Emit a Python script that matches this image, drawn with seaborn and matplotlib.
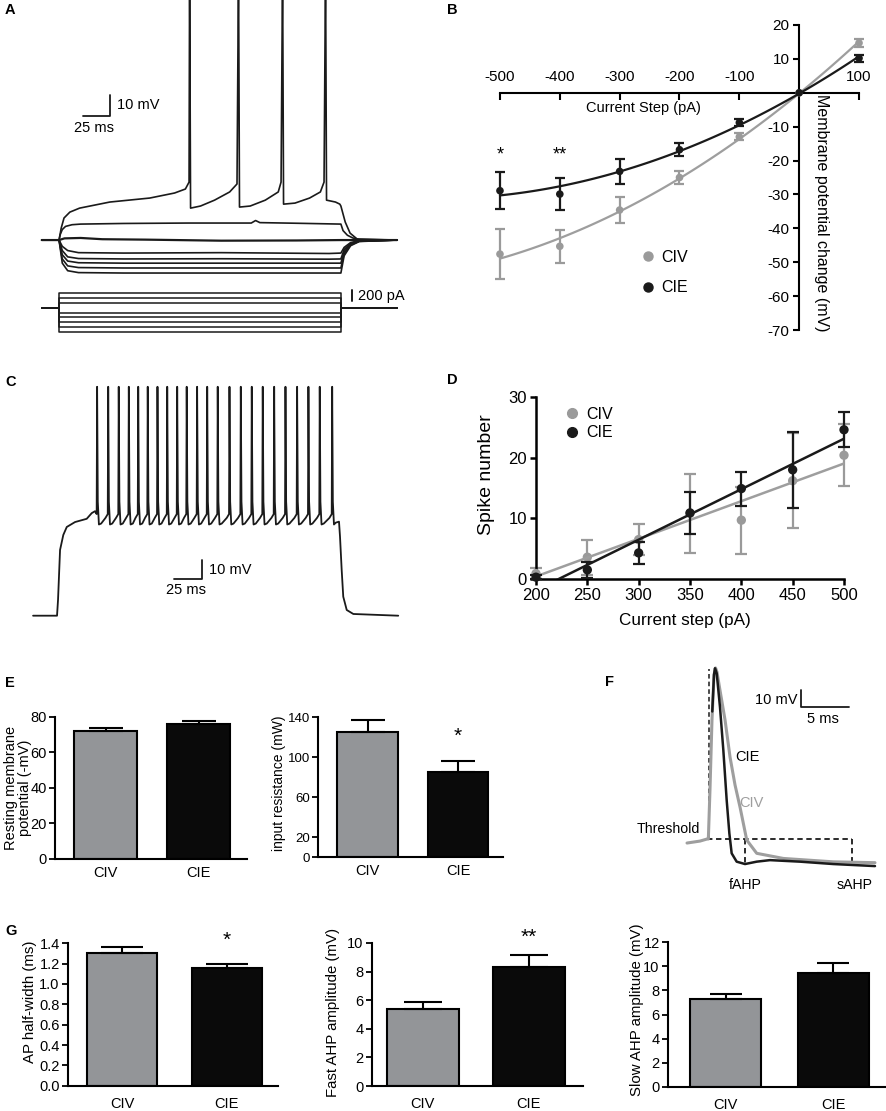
import numpy as np
import pandas as pd
import seaborn as sns
import matplotlib.pyplot as plt
from matplotlib.lines import Line2D

# ---------------- data ----------------
GROUPS = ['CIV', 'CIE']

# A: voltage traces (ms, mV re. rest) and current steps (pA)
A_SPK_T = [-16, 0, 2, 4.6, 10, 19, 47, 84, 107, 117, 120.4, 120.9, 121.8, 131, 144, 158,
           164.8, 166.2, 167.1, 177, 191, 203, 205.6, 207, 207.9, 218.5, 232, 242, 245.4,
           246.8, 247.7, 256, 260, 261, 265, 269.5, 276, 313]
A_SPK_V = [0, 0, 5.7, 10.5, 13.3, 15.2, 18.1, 20, 22.4, 24.3, 27.6, 130, 15.2, 16.2, 19, 22.9,
           26.7, 130, 15.7, 16.2, 19, 22.9, 27.6, 130, 17.1, 17.6, 20, 22.9, 27.6, 130, 19,
           18.1, 17.1, 16.2, 8.6, 3.3, 0.5, 0]
A_DEP_T = [-16, 0, 1, 3, 6, 12, 20, 60, 120, 178, 182, 186, 220, 261, 263, 267, 272, 278, 313]
A_DEP_V = [0, 0, 2.5, 5, 6.5, 7.3, 7.6, 7.9, 8.1, 8.1, 9.3, 8.3, 8, 7.6, 4.5, 2.3, 1, 0.3, 0]
A_ZERO_T = [-16, 0, 5, 20, 40, 80, 150, 220, 261, 313]
A_ZERO_V = [0, 0, 0.8, 1.0, 0.4, 0.2, -0.3, -0.2, 0, 0]
A_HYP_T = [-16, 0, 3, 8, 18, 60, 150, 250, 261, 264, 270, 278, 313]
A_HYP1 = [0, 0, -3, -5, -6, -6.2, -6.0, -6.4, -6.2, -3.5, -1.2, -0.3, 0]
A_HYP2 = [0, 0, -5, -8, -8.8, -9.0, -8.9, -9.1, -9.0, -4.5, -1.6, -0.4, 0]
A_HYP3 = [0, 0, -7, -10, -10.8, -11.0, -11.0, -11.0, -11.0, -5.5, -2.0, -0.5, 0]
A_HYP4 = [0, 0, -9, -12.3, -13.1, -13.3, -13.3, -13.3, -13.3, -6.5, -2.3, -0.6, 0]
A_HYP5 = [0, 0, -11, -14.6, -15.5, -15.7, -15.7, -15.7, -15.7, -7.5, -2.7, -0.7, 0]
STEP_LEVELS = [300, 200, 100, -100, -200, -300, -400, -500]
STEP_ON, STEP_OFF = 0, 261

# C: repetitive firing (ms, mV)
C_PRE_T = [-21.4, 0, 0.9, 2.7, 5.6, 8.7, 16.1, 26.5, 31, 33.9]
C_PRE_V = [0, 0, 8.4, 34.6, 42.5, 46.7, 49.3, 51, 54, 55]
C_SPIKES = [35.4, 45.3, 54.7, 63.7, 72.1, 80.6, 89.3, 98, 106.9, 115.4, 124.7, 133.7,
            143.1, 153.6, 163.7, 173.5, 183.3, 193.5, 203.6, 214, 224.1, 234.2, 245.3]
C_SPK_DT = [0, 0.4, 1.0, 2.0]
C_SPK_V = [53.5, 120.5, 60, 48]
C_POST_T = [249, 251.8, 252.7, 254.2, 255.6, 258.7, 264.6, 304.7]
C_POST_V = [49, 49.5, 41.6, 24, 10, 3, 0.9, 0]

# B: I-V relation
B_STEPS = [-500, -400, -300, -200, -100, 0, 100]
B_CIV = [-47.6, -45.3, -34.6, -25.0, -13.0, 0, 14.7]
B_CIV_ERR = [7.4, 4.9, 3.7, 1.8, 1.0, 0, 1.2]
B_CIE = [-28.9, -29.9, -23.2, -16.8, -8.8, 0, 10.2]
B_CIE_ERR = [5.5, 4.8, 3.6, 2.0, 1.0, 0, 1.0]

# D: spike number vs current
D_STEPS = [200, 250, 300, 350, 400, 450, 500]
D_CIV = [0.9, 3.6, 6.5, 10.8, 9.7, 16.2, 20.4]
D_CIV_ERR = [0.9, 2.9, 2.6, 6.5, 5.5, 7.8, 5.1]
D_CIE = [0.3, 1.5, 4.3, 10.9, 14.9, 18.0, 24.6]
D_CIE_ERR = [0.3, 1.3, 1.8, 3.5, 2.8, 6.3, 2.9]

# E, G: bar summaries (mean, sem)
E_RMP, E_RMP_ERR = [72.1, 76.1], [1.4, 1.5]
E_RIN, E_RIN_ERR = [125, 85], [12, 11.3]
G_HW, G_HW_ERR = [1.30, 1.16], [0.065, 0.033]
G_FAHP, G_FAHP_ERR = [5.35, 8.31], [0.52, 0.82]
G_SAHP, G_SAHP_ERR = [7.26, 9.47], [0.44, 0.78]

# F: averaged action potentials (ms, mV re. threshold)
F_CIV_T = [-2.08, -0.73, 0, 0.14, 0.31, 0.52, 0.73, 0.89, 1.04, 1.35, 1.88, 2.4, 2.92, 3.44,
           4.14, 5.18, 7.95, 13.16, 17.5]
F_CIV_V = [-2.35, -1.2, 0, 0, 28.8, 70, 96.5, 100.6, 98.2, 87.6, 70, 48.2, 31.8, 18.8,
           -0.6, -8.4, -11.4, -13.4, -13.9]
F_CIE_T = [0.55, 0.73, 0.83, 1.01, 1.35, 1.7, 2.05, 2.33, 2.57, 3.09, 3.96, 5.18, 6.56,
           9.69, 13.16, 17.5]
F_CIE_V = [75, 96.5, 100.4, 97.5, 77.8, 52.4, 22.9, 3.3, -8.4, -13.3, -14.7, -13.3, -12.4,
           -13.3, -14.7, -15.9]

GRAY_BAR = '#939598'
GRAY_PT = '#9a9a9a'
GRAY_LN = '#9e9e9e'
BLACK = '#0a0a0a'

# ---------------- style ----------------
sns.set_theme(style='ticks', rc={'axes.edgecolor': 'black', 'axes.labelcolor': 'black',
                                 'text.color': 'black', 'xtick.color': 'black',
                                 'ytick.color': 'black'})
plt.rcParams['font.family'] = ['Liberation Sans', 'DejaVu Sans']
plt.rcParams['axes.unicode_minus'] = False

W, H = 887, 1111
fig = plt.figure(figsize=(W / 100, H / 100), dpi=100)


def px_axes(x0, y0, x1, y1):
    return fig.add_axes([x0 / W, 1 - y1 / H, (x1 - x0) / W, (y1 - y0) / H])


def px_text(x, y, s, **kw):
    kw.setdefault('fontsize', 10)
    fig.text(x / W, 1 - y / H, s, **kw)


def trace(ax, t, v, **kw):
    sns.lineplot(x=t, y=v, estimator=None, sort=False, ax=ax, **kw)


for letter, x, y in [('A', 5, 10), ('B', 447, 10), ('C', 5, 382), ('D', 447, 380),
                     ('E', 5, 683), ('F', 605, 682), ('G', 5, 931)]:
    px_text(x, y, letter, fontweight='bold', va='center', fontsize=10.5)

# ---------------- A ----------------
axA = px_axes(30, 0, 410, 285)
for v in [A_HYP5, A_HYP4, A_HYP3, A_HYP2, A_HYP1]:
    trace(axA, A_HYP_T, v, color='k', linewidth=1.2)
trace(axA, A_ZERO_T, A_ZERO_V, color='k', linewidth=1.6)
trace(axA, A_DEP_T, A_DEP_V, color='k', linewidth=1.2)
trace(axA, A_SPK_T, A_SPK_V, color='k', linewidth=1.2)
axA.plot([22, 47, 47], [59, 59, 69], color='k', lw=1.3)
axA.text(53.4, 64.3, '10 mV', fontsize=10.5, va='center', ha='left')
axA.text(32.1, 53.2, '25 ms', fontsize=10.5, va='center', ha='center')
axA.set_xlim(-26.9, 325)
axA.set_ylim(-21.4, 114.3)
axA.axis('off')

axI = px_axes(30, 285, 410, 340)
for lev in STEP_LEVELS:
    trace(axI, [-16, STEP_ON, STEP_ON, STEP_OFF, STEP_OFF, 313], [0, 0, lev, lev, 0, 0],
          color='k', linewidth=1.1)
axI.plot([271.3, 271.3], [130, 360], color='k', lw=1.4)
axI.text(277, 242, '200 pA', fontsize=10.5, va='center', ha='left')
axI.set_xlim(-26.9, 325)
axI.set_ylim(-669, 470)
axI.axis('off')

# ---------------- C ----------------
c_t, c_v = list(C_PRE_T), list(C_PRE_V)
for i, ts in enumerate(C_SPIKES):
    c_t += [ts + d for d in C_SPK_DT]
    c_v += C_SPK_V
    if i < len(C_SPIKES) - 1:
        nxt = C_SPIKES[i + 1]
        c_t += [ts + 4, nxt - 2]
        c_v += [48.5, 51.5]
c_t += C_POST_T
c_v += C_POST_V

axC = px_axes(25, 375, 410, 625)
trace(axC, c_t, c_v, color='k', linewidth=1.3)
axC.plot([104.5, 129.5, 129.5], [19.3, 19.3, 29.3], color='k', lw=1.3)
axC.text(135.7, 24.3, '10 mV', fontsize=10.5, va='center', ha='left')
axC.text(115, 13.5, '25 ms', fontsize=10.5, va='center', ha='center')
axC.set_xlim(-28.6, 315.2)
axC.set_ylim(-4.9, 126.7)
axC.axis('off')

# ---------------- B ----------------
axB = px_axes(488, 25, 868, 330)
civ_e = np.array(B_CIV_ERR)
cie_e = np.array(B_CIE_ERR)
bx = np.array(B_STEPS)
m = civ_e > 0
axB.errorbar(bx[m], np.array(B_CIV)[m], yerr=civ_e[m], fmt='none', ecolor=GRAY_PT,
             elinewidth=1.6, capsize=3.5, capthick=1.6, zorder=2, clip_on=False)
m = cie_e > 0
axB.errorbar(bx[m], np.array(B_CIE)[m], yerr=cie_e[m], fmt='none', ecolor='k',
             elinewidth=1.6, capsize=3.5, capthick=1.6, zorder=4, clip_on=False)
sns.regplot(x=B_STEPS, y=B_CIV, order=2, ci=None, ax=axB, color=GRAY_PT,
            scatter_kws={'s': 30, 'alpha': 1, 'edgecolor': 'none', 'zorder': 3, 'clip_on': False},
            line_kws={'linewidth': 1.6, 'color': GRAY_LN, 'zorder': 2})
sns.regplot(x=B_STEPS, y=B_CIE, order=2, ci=None, ax=axB, color='k',
            scatter_kws={'s': 30, 'alpha': 1, 'edgecolor': 'none', 'zorder': 5, 'clip_on': False},
            line_kws={'linewidth': 1.6, 'zorder': 4})
axB.set_xlim(-520, 115)
axB.set_ylim(-70, 20)
axB.spines['top'].set_position(('data', 0))
axB.spines['top'].set_bounds(-500, 100)
axB.spines['left'].set_position(('data', 0))
axB.spines['left'].set_bounds(-70, 20)
axB.spines['right'].set_visible(False)
axB.spines['bottom'].set_visible(False)
for s in ['top', 'left']:
    axB.spines[s].set_linewidth(1.5)
axB.xaxis.set_ticks_position('top')
xt = [-500, -400, -300, -200, -100, 100]
axB.set_xticks(xt)
axB.set_xticklabels([str(v) for v in xt])
yt = [-70, -60, -50, -40, -30, -20, -10, 10, 20]
axB.set_yticks(yt)
axB.set_yticklabels([str(v) for v in yt])
axB.tick_params(axis='x', direction='in', length=5, width=1.5, pad=6, labelsize=11)
axB.tick_params(axis='y', direction='out', length=4, width=1.5, pad=3, labelsize=11)
axB.set_xlabel('')
axB.set_ylabel('')
axB.text(-500, -18.3, '*', fontsize=13, ha='center', va='center')
axB.text(-400, -18.3, '**', fontsize=13, ha='center', va='center')
px_text(643, 108, 'Current Step (pA)', fontsize=10.5, ha='center', va='center')
px_text(822, 213, 'Membrane potential change (mV)', fontsize=11.5, ha='center',
        va='center', rotation=270)
hB = [Line2D([], [], marker='o', ls='', color=GRAY_PT, ms=6.5),
      Line2D([], [], marker='o', ls='', color='k', ms=6.5)]
axB.legend(hB, GROUPS, loc='upper left', bbox_to_anchor=(640 / W, 1 - 250 / H),
           bbox_transform=fig.transFigure, frameon=False, fontsize=11.5, handlelength=1.0,
           handletextpad=0.3, labelspacing=0.95, borderpad=0, borderaxespad=0)

# ---------------- D ----------------
axD = px_axes(536, 397, 844, 579)
axD.errorbar(D_STEPS, D_CIV, yerr=D_CIV_ERR, fmt='none', ecolor=GRAY_PT, elinewidth=1.6,
             capsize=4.3, capthick=1.6, zorder=2, clip_on=False)
axD.errorbar(D_STEPS, D_CIE, yerr=D_CIE_ERR, fmt='none', ecolor='k', elinewidth=1.6,
             capsize=4.3, capthick=1.6, zorder=4, clip_on=False)
sns.regplot(x=D_STEPS, y=D_CIV, ci=None, ax=axD, color=GRAY_PT,
            scatter_kws={'s': 45, 'alpha': 1, 'edgecolor': 'none', 'zorder': 3, 'clip_on': False},
            line_kws={'linewidth': 1.8, 'color': GRAY_LN, 'zorder': 3})
sns.regplot(x=D_STEPS, y=D_CIE, ci=None, ax=axD, color='k',
            scatter_kws={'s': 45, 'alpha': 1, 'edgecolor': 'none', 'zorder': 5, 'clip_on': False},
            line_kws={'linewidth': 1.8, 'zorder': 4})
axD.set_xlim(200, 500)
axD.set_ylim(0, 30)
axD.set_xticks(range(200, 501, 50))
axD.set_yticks([0, 10, 20, 30])
sns.despine(ax=axD)
for s in ['left', 'bottom']:
    axD.spines[s].set_linewidth(1.8)
axD.tick_params(length=4, width=1.8, pad=2.5, labelsize=12)
axD.set_xlabel('')
axD.set_ylabel('')
px_text(685, 620, 'Current step (pA)', fontsize=12.3, ha='center', va='center')
px_text(487, 475, 'Spike number', fontsize=14, ha='center', va='center', rotation=90)
hD = [Line2D([], [], marker='o', ls='', color=GRAY_PT, ms=7),
      Line2D([], [], marker='o', ls='', color='k', ms=7)]
axD.legend(hD, GROUPS, loc='upper left', bbox_to_anchor=(564 / W, 1 - 407 / H),
           bbox_transform=fig.transFigure, frameon=False, fontsize=11.5, handlelength=1.0,
           handletextpad=0.4, labelspacing=0.2, borderpad=0, borderaxespad=0)


# ---------------- bar panels E, G ----------------
def bar_panel(rect, vals, errs, width, xlim, ylim, yticks, yticklabels, capsize,
              tick_pad=6, ytick_size=10.5, ytick_pad=2):
    ax = px_axes(*rect)
    sns.barplot(x=GROUPS, y=vals, hue=GROUPS, palette=[GRAY_BAR, BLACK], legend=False,
                width=width, edgecolor='black', linewidth=1.5, errorbar=None,
                saturation=1, ax=ax)
    ax.errorbar([0, 1], vals, yerr=[[0, 0], errs], fmt='none', ecolor='black',
                elinewidth=1.5, capsize=capsize, capthick=1.5, zorder=3)
    ax.set_xlim(xlim)
    ax.set_ylim(ylim)
    ax.set_yticks(yticks)
    ax.set_yticklabels(yticklabels)
    sns.despine(ax=ax)
    for s in ['left', 'bottom']:
        ax.spines[s].set_linewidth(1.5)
    ax.tick_params(axis='y', length=4, width=1.3, pad=ytick_pad, labelsize=ytick_size)
    ax.tick_params(axis='x', length=0, pad=tick_pad, labelsize=10.5)
    ax.set_xlabel('')
    ax.set_ylabel('')
    return ax


axE1 = bar_panel((55, 716.7, 247, 859), E_RMP, E_RMP_ERR, 0.68, (-0.543, 1.52), (0, 80),
                 [0, 20, 40, 60, 80], ['0', '20', '40', '60', '80'], 12, tick_pad=5)
px_text(18, 788, 'Resting membrane\npotential (-mV)', fontsize=10.5, ha='center',
        va='center', rotation=90, linespacing=1.05)

axE2 = bar_panel((318, 717.3, 503, 857.3), E_RIN, E_RIN_ERR, 0.67, (-0.547, 1.497),
                 (0, 140), [0, 20, 60, 100, 140], ['0', '20', '60', '100', '140'], 12.5,
                 tick_pad=5, ytick_size=9.5, ytick_pad=1.5)
axE2.text(1, 120.6, '*', fontsize=15, ha='center', va='center')
px_text(279, 783, 'input resistance (mW)', fontsize=10, ha='center', va='center',
        rotation=90)

axG1 = bar_panel((68, 943.3, 278, 1085.7), G_HW, G_HW_ERR, 0.67, (-0.517, 1.49), (0, 1.4),
                 np.arange(0, 1.41, 0.2), ['%.1f' % v for v in np.arange(0, 1.41, 0.2)], 15,
                 tick_pad=8)
axG1.text(1, 1.43, '*', fontsize=15, ha='center', va='center')
px_text(30, 1002, 'AP half-width (ms)', fontsize=10.8, ha='center', va='center',
        rotation=90)

axG2 = bar_panel((372, 943, 583, 1086), G_FAHP, G_FAHP_ERR, 0.68, (-0.48, 1.51), (0, 10),
                 [0, 2, 4, 6, 8, 10], ['0', '2', '4', '6', '8', '10'], 13.5, tick_pad=8)
axG2.text(1, 10.4, '**', fontsize=15, ha='center', va='center')
px_text(333, 1012, 'Fast AHP amplitude (mV)', fontsize=10.8, ha='center', va='center',
        rotation=90)

axG3 = bar_panel((668, 942.3, 887, 1086.7), G_SAHP, G_SAHP_ERR, 0.66, (-0.535, 1.50),
                 (0, 12), [0, 2, 4, 6, 8, 10, 12], ['0', '2', '4', '6', '8', '10', '12'],
                 11.5, tick_pad=8)
px_text(637, 1010, 'Slow AHP amplitude (mV)', fontsize=10.8, ha='center', va='center',
        rotation=90)

# ---------------- F ----------------
axF = px_axes(630, 655, 887, 895)
axF.plot([0, 15.1], [0, 0], color='k', lw=1.3, ls=(0, (3, 2)))
axF.plot([3.96, 3.96], [0, -14.7], color='k', lw=1.3, ls=(0, (3, 2)))
axF.plot([15.1, 15.1], [0, -15.3], color='k', lw=1.3, ls=(0, (3, 2)))
axF.plot([0.2, 0.2], [0, 100], color='k', lw=1.1, ls=(0, (3, 2)))
trace(axF, F_CIV_T, F_CIV_V, color=GRAY_LN, linewidth=2.2)
trace(axF, F_CIE_T, F_CIE_V, color='k', linewidth=1.8)
axF.plot([9.79, 9.79, 14.82], [87.6, 77.8, 77.8], color='k', lw=1.3)
axF.text(9.4, 81.8, '10 mV', fontsize=10.5, ha='right', va='center')
axF.text(12.1, 70.6, '5 ms', fontsize=10.5, ha='center', va='center')
axF.text(2.9, 48, 'CIE', fontsize=10.5, ha='left', va='center')
axF.text(3.4, 21, 'CIV', fontsize=10.5, ha='left', va='center', color=GRAY_LN)
axF.text(-0.7, 1.5, 'Threshold', fontsize=10.2, ha='right', va='bottom')
axF.text(3.96, -27, 'fAHP', fontsize=10.2, ha='center', va='center')
axF.text(15.4, -27, 'sAHP', fontsize=10.2, ha='center', va='center')
axF.set_xlim(-8.02, 18.75)
axF.set_ylim(-32.9, 108.2)
axF.axis('off')

fig.savefig('out.png', dpi=100)
